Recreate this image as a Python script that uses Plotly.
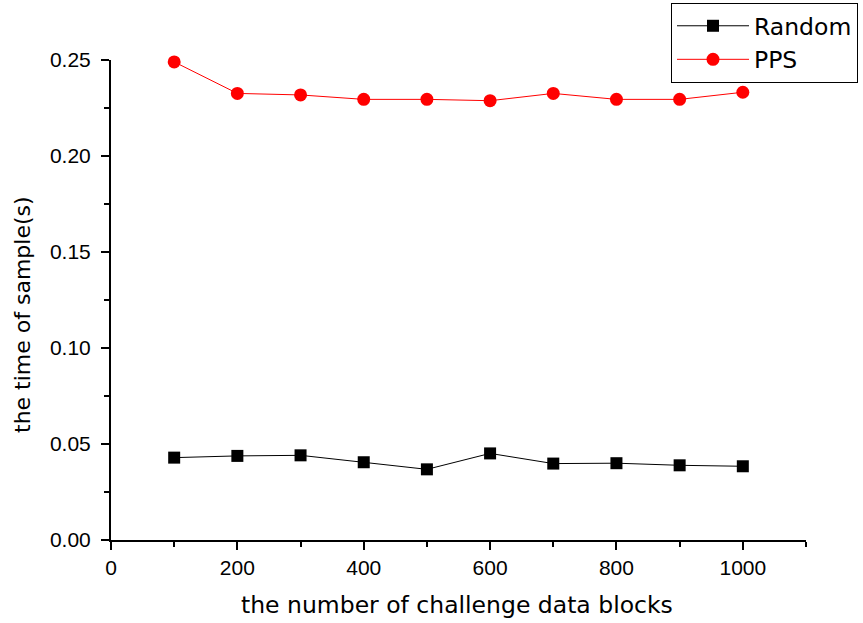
import plotly.graph_objects as go

x_blocks = [100, 200, 300, 400, 500, 600, 700, 800, 900, 1000]
random_time = [0.0429, 0.0438, 0.0441, 0.0405, 0.0368, 0.0451, 0.0398, 0.0400, 0.0389, 0.0384]
pps_time = [0.2490, 0.2326, 0.2318, 0.2295, 0.2295, 0.2288, 0.2326, 0.2295, 0.2295, 0.2332]

x_ticks = [0, 200, 400, 600, 800, 1000]
x_minor = [100, 300, 500, 700, 900, 1100]
y_ticks = [0, 0.05, 0.10, 0.15, 0.20, 0.25]
y_minor = [0.025, 0.075, 0.125, 0.175, 0.225]

x_title = "the number of challenge data blocks"
y_title = "the time of sample(s)"

FONT = "Liberation Sans, Arial, sans-serif"
WIDE = "DejaVu Sans, sans-serif"

fig = go.Figure()
fig.add_trace(go.Scatter(
    x=x_blocks, y=random_time, name="Random", mode="lines+markers",
    line=dict(color="black", width=1),
    marker=dict(symbol="square", size=12, color="black"),
    cliponaxis=False,
))
fig.add_trace(go.Scatter(
    x=x_blocks, y=pps_time, name="PPS", mode="lines+markers",
    line=dict(color="red", width=1),
    marker=dict(symbol="circle", size=13, color="red"),
    cliponaxis=False,
))

W, H = 863, 623
L, R, T, B = 111, 57, 60, 83
pw, ph = W - L - R, H - T - B

def px_x(p):
    return (p - L) / pw

def px_y(p):
    return (H - B - p) / ph

fig.update_layout(
    width=W, height=H,
    margin=dict(l=L, r=R, t=T, b=B, autoexpand=False),
    paper_bgcolor="white", plot_bgcolor="white",
    font=dict(family=FONT, color="black", size=21),
    showlegend=True,
    legend=dict(
        x=px_x(671), y=px_y(3), xanchor="left", yanchor="top",
        bgcolor="white", bordercolor="black", borderwidth=1,
        font=dict(size=23.5, family=WIDE), tracegroupgap=0,
        itemwidth=72,
    ),
    annotations=[
        dict(text=x_title, xref="paper", yref="paper", x=px_x(457), y=px_y(605),
             xanchor="center", yanchor="middle", showarrow=False,
             font=dict(size=23.5, family=WIDE)),
        dict(text=y_title, xref="paper", yref="paper", x=px_x(22), y=px_y(315),
             xanchor="center", yanchor="middle", showarrow=False, textangle=-90,
             font=dict(size=22, family=WIDE)),
    ],
)
fig.update_xaxes(
    range=[0, 1100], tickvals=x_ticks,
    showgrid=False, zeroline=False,
    showline=True, linecolor="black", linewidth=2,
    ticks="outside", ticklen=8, tickwidth=2, tickcolor="black",
    minor=dict(tickvals=x_minor, ticks="outside", ticklen=5, tickwidth=2, tickcolor="black"),
    tickfont=dict(size=21),
)
fig.update_yaxes(
    range=[0, 0.25], tickvals=y_ticks, tickformat=".2f",
    showgrid=False, zeroline=False,
    showline=True, linecolor="black", linewidth=2,
    ticks="outside", ticklen=8, tickwidth=2, tickcolor="black",
    minor=dict(tickvals=y_minor, ticks="outside", ticklen=5, tickwidth=2, tickcolor="black"),
    tickfont=dict(size=21), ticklabelstandoff=6,
)

fig.write_html("out.html")
